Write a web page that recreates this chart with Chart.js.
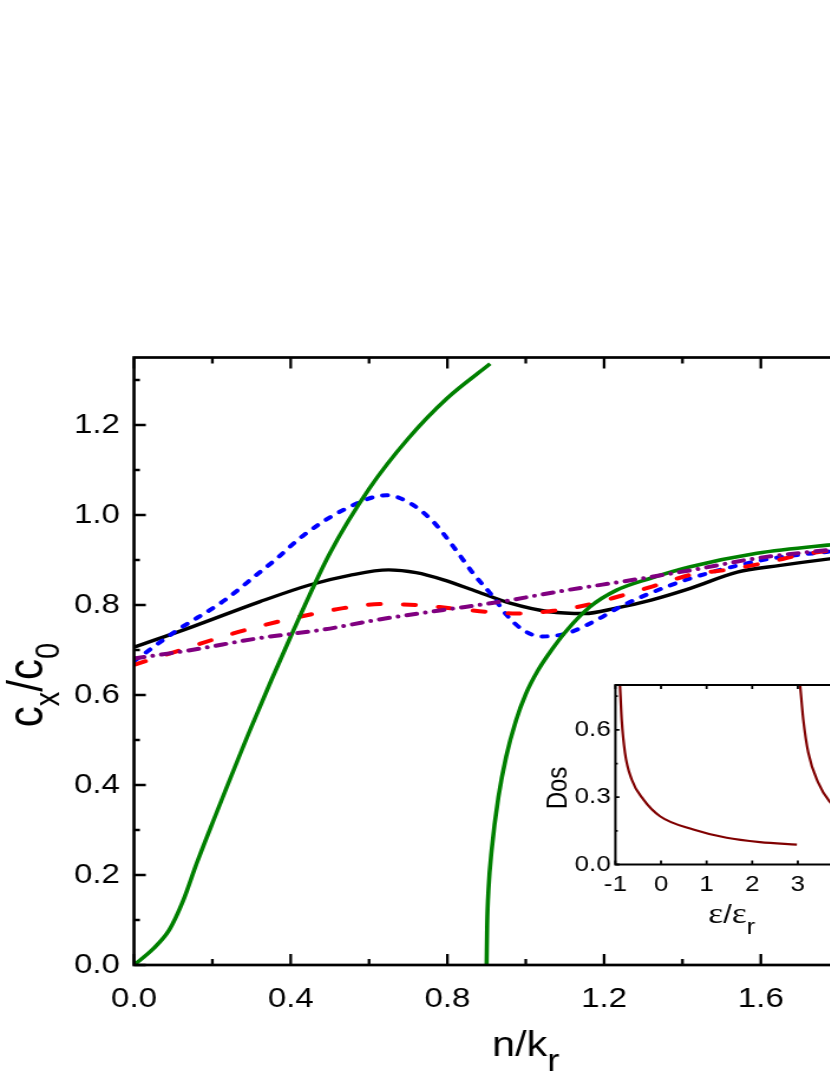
<!DOCTYPE html>
<html><head><meta charset="utf-8">
<script src="https://cdn.jsdelivr.net/npm/chart.js@4/dist/chart.umd.min.js"></script>
<style>
html,body{margin:0;padding:0;overflow:hidden;background:#fff;width:830px;height:1075px;}
#main{position:absolute;left:0;top:0;transform:scaleX(1.18);transform-origin:0 0;}
#inset{position:absolute;left:530px;top:660px;transform:scaleX(1.18);transform-origin:0 0;}
</style></head><body>
<canvas id="main" width="800" height="1075"></canvas>
<canvas id="inset" width="300" height="300"></canvas>
<script>
// ---------- main chart data ----------
const xTickValues = [0, 0.4, 0.8, 1.2, 1.6, 2.0];
const xTickLabels = ['0.0', '0.4', '0.8', '1.2', '1.6', '2.0'];
const xMinorTicks = [0.2, 0.6, 1.0, 1.4, 1.8];
const yTickValues = [0, 0.2, 0.4, 0.6, 0.8, 1.0, 1.2];
const yTickLabels = ['0.0', '0.2', '0.4', '0.6', '0.8', '1.0', '1.2'];
const yMinorTicks = [0.1, 0.3, 0.5, 0.7, 0.9, 1.1, 1.3];

const blackX = [0, 0.15, 0.32, 0.45, 0.55, 0.65, 0.72, 0.79, 0.875, 0.96, 1.06, 1.15, 1.23, 1.32, 1.42, 1.54, 1.65, 1.77, 1.9, 2.0];
const blackY = [0.706, 0.752, 0.807, 0.845, 0.866, 0.878, 0.872, 0.856, 0.83, 0.804, 0.785, 0.781, 0.793, 0.811, 0.837, 0.873, 0.888, 0.902, 0.915, 0.925];

const blueX = [0, 0.105, 0.232, 0.317, 0.36, 0.43, 0.534, 0.645, 0.705, 0.764, 0.815, 0.866, 0.917, 0.951, 0.994, 1.04, 1.105, 1.173, 1.241, 1.317, 1.42, 1.547, 1.632, 1.768, 1.9, 2.0];
const blueY = [0.675, 0.741, 0.811, 0.87, 0.9, 0.953, 1.011, 1.044, 1.026, 0.985, 0.93, 0.87, 0.818, 0.778, 0.744, 0.73, 0.737, 0.763, 0.796, 0.826, 0.859, 0.889, 0.904, 0.918, 0.93, 0.938];

const redX = [0, 0.105, 0.198, 0.283, 0.368, 0.462, 0.534, 0.628, 0.722, 0.807, 0.9, 0.977, 1.07, 1.156, 1.241, 1.334, 1.42, 1.52, 1.624, 1.7, 1.768, 1.9, 2.0];
const redY = [0.667, 0.696, 0.722, 0.744, 0.763, 0.781, 0.793, 0.802, 0.8, 0.793, 0.785, 0.781, 0.787, 0.8, 0.82, 0.844, 0.867, 0.879, 0.896, 0.911, 0.92, 0.933, 0.943];

const purpleX = [0, 0.147, 0.317, 0.488, 0.62, 0.79, 0.934, 1.105, 1.275, 1.445, 1.59, 1.768, 1.9, 2.0];
const purpleY = [0.681, 0.7, 0.726, 0.746, 0.767, 0.789, 0.807, 0.833, 0.856, 0.881, 0.904, 0.922, 0.935, 0.945];

const greenLowX = [0, 0.05, 0.09, 0.126, 0.16, 0.2, 0.3, 0.4, 0.5, 0.6, 0.7, 0.8, 0.909];
const greenLowY = [0, 0.037, 0.078, 0.144, 0.226, 0.315, 0.53, 0.73, 0.915, 1.058, 1.17, 1.26, 1.336];

const greenHighX = [0.9, 0.9015, 0.905, 0.913, 0.93, 0.95, 0.975, 1.0, 1.032, 1.07, 1.105, 1.164, 1.232, 1.317, 1.42, 1.59, 1.77, 2.0];
const greenHighY = [0, 0.09, 0.17, 0.256, 0.372, 0.463, 0.543, 0.602, 0.656, 0.705, 0.744, 0.796, 0.833, 0.859, 0.885, 0.915, 0.933, 0.95];

// ---------- inset data ----------
const insetXTicks = [-1, 0, 1, 2, 3, 4];
const insetXLabels = ['-1', '0', '1', '2', '3', '4'];
const insetYTicks = [0, 0.3, 0.6];
const insetYLabels = ['0.0', '0.3', '0.6'];
const insetYMinor = [0.15, 0.45, 0.75];

const dos1X = [-0.9, -0.862, -0.79, -0.643, -0.388, -0.022, 0.708, 1.44, 2.17, 2.98];
const dos1Y = [0.8, 0.646, 0.498, 0.379, 0.29, 0.215, 0.156, 0.119, 0.1, 0.089];
const dos2X = [3.05, 3.12, 3.23, 3.45, 3.69, 3.8];
const dos2Y = [0.8, 0.646, 0.498, 0.364, 0.282, 0.262];

// ---------- helpers ----------
const S = 1.18; // horizontal stretch of the picture
const pts = (xs, ys) => xs.map((x, i) => ({x: x, y: ys[i]}));
const FONT = "'Liberation Sans', Arial, sans-serif";
const SERIF = "'Liberation Serif', 'Times New Roman', serif";

function richText(ctx, segs, x, y) {
  let w = 0;
  segs.forEach(s => { ctx.font = s.font; s.w = ctx.measureText(s.t).width; w += s.w; });
  let cx = x - w / 2;
  segs.forEach(s => { ctx.font = s.font; ctx.fillText(s.t, cx, y + (s.dy || 0)); cx += s.w; });
}

function frameTicksPlugin(cfg) {
  return {
    id: 'frameTicks' + cfg.name,
    afterDraw(chart) {
      const ctx = chart.ctx, a = chart.chartArea, xs = chart.scales.x, ys = chart.scales.y;
      ctx.save();
      ctx.strokeStyle = '#000';
      ctx.lineWidth = cfg.tickWidth;
      ctx.lineCap = 'butt';
      ctx.beginPath();
      const vt = (vals, len) => vals.forEach(v => {
        const p = xs.getPixelForValue(v);
        if (p < a.left - 0.5 || p > a.right + 0.5) return;
        ctx.moveTo(p, a.bottom); ctx.lineTo(p, a.bottom - len);
        ctx.moveTo(p, a.top); ctx.lineTo(p, a.top + len);
      });
      const ht = (vals, len) => vals.forEach(v => {
        const p = ys.getPixelForValue(v);
        if (p < a.top - 0.5 || p > a.bottom + 0.5) return;
        ctx.moveTo(a.left, p); ctx.lineTo(a.left + len, p);
        ctx.moveTo(a.right, p); ctx.lineTo(a.right - len, p);
      });
      vt(cfg.xMajor, cfg.xMajorLen); vt(cfg.xMinor, cfg.xMinorLen);
      ht(cfg.yMajor, cfg.yMajorLen); ht(cfg.yMinor, cfg.yMinorLen);
      ctx.stroke();
      ctx.lineWidth = cfg.frameWidth;
      ctx.strokeRect(a.left, a.top, a.right - a.left, a.bottom - a.top);
      // titles
      ctx.fillStyle = '#000';
      ctx.textBaseline = 'alphabetic';
      const xc = (a.left + a.right) / 2 + (cfg.xTitleShift || 0);
      richText(ctx, cfg.xTitle, xc, cfg.xTitleBaseline);
      ctx.translate(cfg.yTitleBaselineX, cfg.yTitleCenterY);
      ctx.rotate(-Math.PI / 2);
      richText(ctx, cfg.yTitle, 0, 0);
      ctx.restore();
    }
  };
}

function lineDs(data, color, width, dash, cap) {
  return {
    data: data, borderColor: color, backgroundColor: color, borderWidth: width,
    borderDash: dash, borderCapStyle: cap, borderJoinStyle: 'round',
    pointRadius: 0, fill: false, cubicInterpolationMode: 'monotone', showLine: true
  };
}

// ---------- main chart ----------
const mainLeft = 134 / S, mainRight = 917.5 / S;
new Chart(document.getElementById('main'), {
  type: 'line',
  data: {
    datasets: [
      lineDs(pts(purpleX, purpleY), '#800080', 4, [8.7, 7.4, 0.01, 7.4], 'round'),
      lineDs(pts(greenLowX, greenLowY), '#008000', 3.6, [], 'butt'),
      lineDs(pts(greenHighX, greenHighY), '#008000', 3.6, [], 'butt'),
      lineDs(pts(redX, redY), '#ff0000', 4, [10.4, 19.3], 'round'),
      lineDs(pts(blueX, blueY), '#0000ff', 4, [4.5, 9], 'round'),
      lineDs(pts(blackX, blackY), '#000000', 3.4, [], 'butt')
    ]
  },
  options: {
    responsive: false, animation: false, devicePixelRatio: 1,
    layout: {padding: {left: 0, right: 800 - mainRight, top: 357.5, bottom: 0}},
    plugins: {legend: {display: false}, tooltip: {enabled: false}, title: {display: false}},
    scales: {
      x: {
        type: 'linear', min: 0, max: 2,
        afterBuildTicks: s => { s.ticks = xTickValues.map(v => ({value: v})); },
        afterFit: s => { s.height = 110; s.paddingLeft = 0; s.paddingRight = 0; },
        grid: {display: false, drawTicks: false}, border: {display: false},
        ticks: {color: '#000', font: {family: FONT, size: 28}, padding: 17, maxRotation: 0, autoSkip: false,
                callback: (v, i) => xTickLabels[i]}
      },
      y: {
        type: 'linear', min: 0, max: 1.35,
        afterBuildTicks: s => { s.ticks = yTickValues.map(v => ({value: v})); },
        afterFit: s => { s.width = mainLeft; s.paddingTop = 0; s.paddingBottom = 0; },
        grid: {display: false, drawTicks: false}, border: {display: false},
        ticks: {color: '#000', font: {family: FONT, size: 28}, padding: 12, autoSkip: false,
                callback: (v, i) => yTickLabels[i]}
      }
    }
  },
  plugins: [frameTicksPlugin({
    name: 'main', tickWidth: 2.3, frameWidth: 2.7,
    xMajor: xTickValues, xMinor: xMinorTicks, xMajorLen: 11, xMinorLen: 6,
    yMajor: yTickValues, yMinor: yMinorTicks, yMajorLen: 10, yMinorLen: 5,
    xTitle: [{t: 'n/k', font: '35px ' + FONT}, {t: 'r', font: '31px ' + FONT, dy: 15}],
    xTitleBaseline: 1056,
    yTitle: [{t: 'c', font: '42px ' + FONT}, {t: 'x', font: '29px ' + FONT, dy: 14},
             {t: '/c', font: '42px ' + FONT}, {t: '0', font: '29px ' + FONT, dy: 14}],
    yTitleBaselineX: 36.4, yTitleCenterY: 685
  })]
});

// ---------- inset chart ----------
const insLeft = (615.4 - 530) / S, insRight = (843.4 - 530) / S;
new Chart(document.getElementById('inset'), {
  type: 'line',
  data: {
    datasets: [
      lineDs(pts(dos1X, dos1Y), '#800000', 2.2, [], 'butt'),
      lineDs(pts(dos2X, dos2Y), '#800000', 2.2, [], 'butt')
    ]
  },
  options: {
    responsive: false, animation: false, devicePixelRatio: 1,
    layout: {padding: {left: 0, right: 300 - insRight, top: 25, bottom: 0}},
    plugins: {legend: {display: false}, tooltip: {enabled: false}},
    scales: {
      x: {
        type: 'linear', min: -1, max: 4,
        afterBuildTicks: s => { s.ticks = insetXTicks.map(v => ({value: v})); },
        afterFit: s => { s.height = 95.5; s.paddingLeft = 0; s.paddingRight = 0; },
        grid: {display: false, drawTicks: false}, border: {display: false},
        ticks: {color: '#000', font: {family: FONT, size: 22}, padding: 7, maxRotation: 0, autoSkip: false,
                callback: (v, i) => insetXLabels[i]}
      },
      y: {
        type: 'linear', min: 0, max: 0.8,
        afterBuildTicks: s => { s.ticks = insetYTicks.map(v => ({value: v})); },
        afterFit: s => { s.width = insLeft; s.paddingTop = 0; s.paddingBottom = 0; },
        grid: {display: false, drawTicks: false}, border: {display: false},
        ticks: {color: '#000', font: {family: FONT, size: 22}, padding: 4, autoSkip: false,
                callback: (v, i) => insetYLabels[i]}
      }
    }
  },
  plugins: [frameTicksPlugin({
    name: 'inset', tickWidth: 1.8, frameWidth: 2,
    xMajor: insetXTicks, xMinor: [], xMajorLen: 4, xMinorLen: 2,
    yMajor: insetYTicks, yMinor: insetYMinor, yMajorLen: 3.4, yMinorLen: 2,
    xTitle: [{t: 'ε', font: '30px ' + SERIF}, {t: '/', font: '26px ' + FONT},
             {t: 'ε', font: '30px ' + SERIF}, {t: 'r', font: '22px ' + FONT, dy: 11}],
    xTitleBaseline: 263, xTitleShift: 2,
    yTitle: [{t: 'Dos', font: '24px ' + FONT}],
    yTitleBaselineX: 31.4, yTitleCenterY: 128
  })]
});
</script>
</body></html>
